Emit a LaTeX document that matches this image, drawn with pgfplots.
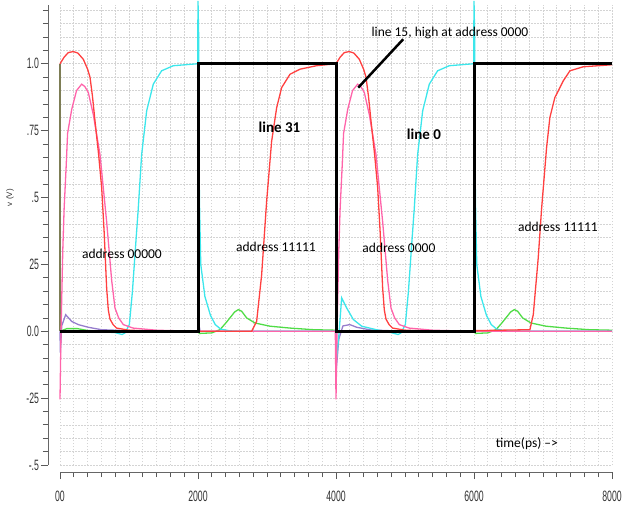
\documentclass[border=0pt]{standalone}
\usepackage{fontspec}
\setmainfont{Carlito}
\newfontfamily\tickfont{Liberation Sans}
\usepackage{pgfplots}
\pgfplotsset{compat=1.18}
\definecolor{tred}{RGB}{255,64,64}
\definecolor{tpink}{RGB}{255,100,170}
\definecolor{tcyan}{RGB}{60,230,235}
\definecolor{tgreen}{RGB}{80,220,70}
\definecolor{tpurple}{RGB}{150,125,205}
\definecolor{tolive}{RGB}{125,125,85}
\definecolor{gridc}{RGB}{212,212,212}
\begin{document}
\begin{tikzpicture}
\begin{axis}[
  scale only axis, width=552pt, height=460pt,
  xmin=0, xmax=8000, ymin=-0.5, ymax=1.22,
  axis lines*=left,
  axis x line shift=7pt, axis y line shift=12pt,
  axis line style={draw=black!60, line width=0.9pt},
  tick align=outside,
  major tick length=7pt, minor tick length=5pt,
  tick style={black!65, line width=0.8pt},
  xtick={0,2000,4000,6000,8000}, xticklabels={00,2000,4000,6000,8000},
  minor xtick={0,200,...,8000},
  ytick={-0.5,-0.25,0,0.25,0.5,0.75,1.0}, yticklabels={-.5,-25,0.0,25,.5,.75,1.0},
  minor ytick={-0.5,-0.45,...,1.21},
  grid=both,
  major grid style={gridc, line width=0.7pt, dash pattern=on 1.5pt off 1.5pt},
  minor grid style={gridc, line width=0.7pt, dash pattern=on 1.5pt off 1.5pt},
  ticklabel style={font=\tickfont\fontsize{15}{15}\selectfont, xscale=0.58, text=black!80},
  xticklabel style={yshift=-8pt},
  clip=false,
]
% olive
\addplot[tolive, line width=1.3pt] coordinates {(0,0) (0,1.0)};
% green
\addplot[tgreen, line width=1.3pt] coordinates {
(0,0)(50,0.005)(100,0.01)(250,0.01)(400,0.003)(600,0)(2000,0)(2020,-0.008)(2200,-0.006)(2318,0.006)(2400,0.03)(2463,0.05)(2530,0.072)(2584,0.081)(2632,0.075)(2705,0.05)(2826,0.031)(3043,0.019)(3333,0.012)(3670,0.006)(4000,0.004)(4010,0.0)(4500,0)(6000,0)(6020,-0.008)(6200,-0.006)(6318,0.006)(6400,0.03)(6463,0.05)(6530,0.072)(6584,0.081)(6632,0.075)(6705,0.05)(6826,0.031)(7043,0.019)(7333,0.012)(7670,0.006)(8000,0.004)};
% purple
\addplot[tpurple, line width=1.3pt] coordinates {
(0,0)(5,-0.08)(25,0.02)(82,0.062)(169,0.037)(265,0.025)(410,0.015)(600,0.006)(1000,0.002)(2000,0)(2010,0.03)(2030,0)(4000,0)(4005,-0.14)(4040,-0.03)(4100,0.02)(4200,0.025)(4300,0.015)(4500,0.005)(5000,0)(8000,0)};
% cyan
\addplot[tcyan, line width=1.3pt] coordinates {
(0,0)(500,0)(800,-0.005)(900,-0.012)(942,-0.006)(1005,0.025)(1050,0.15)(1087,0.288)(1135,0.462)(1183,0.66)(1256,0.824)(1352,0.924)(1473,0.974)(1642,0.993)(1980,1.0)(1995,1.0)(2000,1.235)(2010,1.1)(2020,0.5)(2040,0.25)(2100,0.13)(2180,0.06)(2250,0.025)(2330,0.008)(2450,0.002)(2600,0)(4000,0)(4010,-0.1)(4040,-0.02)(4082,0.125)(4155,0.087)(4251,0.044)(4372,0.019)(4600,0.005)(4800,-0.005)(4900,-0.012)(4942,-0.006)(5005,0.025)(5050,0.15)(5087,0.288)(5135,0.462)(5183,0.66)(5256,0.824)(5352,0.924)(5473,0.974)(5642,0.993)(5980,1.0)(5995,1.0)(6000,1.235)(6010,1.1)(6020,0.5)(6040,0.25)(6100,0.13)(6180,0.06)(6250,0.025)(6330,0.008)(6450,0.002)(6600,0)(8000,0)};
% pink
\addplot[tpink, line width=1.3pt] coordinates {
(0,-0.255)(15,0.0)(40,0.3)(60,0.46)(90,0.62)(110,0.74)(170,0.83)(240,0.9)(314,0.924)(360,0.915)(410,0.893)(483,0.81)(580,0.66)(676,0.41)(749,0.19)(797,0.087)(850,0.05)(918,0.025)(1058,0.012)(1400,0.004)(1995,0.0)(2000,0.22)(2015,0.0)(3990,0)(4000,-0.255)(4015,0.0)(4040,0.3)(4060,0.46)(4090,0.62)(4110,0.74)(4170,0.83)(4240,0.9)(4314,0.924)(4360,0.915)(4410,0.893)(4483,0.81)(4580,0.66)(4676,0.41)(4749,0.19)(4797,0.087)(4850,0.05)(4918,0.025)(5058,0.012)(5400,0.004)(6000,0)(8000,0)};
% red
\addplot[tred, line width=1.3pt] coordinates {
(0,1.0)(60,1.025)(120,1.042)(193,1.046)(260,1.04)(338,1.017)(400,0.98)(435,0.95)(470,0.88)(507,0.787)(560,0.66)(604,0.537)(640,0.37)(676,0.162)(700,0.08)(725,0.045)(770,0.025)(821,0.012)(1000,0.004)(1500,0.0)(2778,0.0)(2850,0.037)(2922,0.21)(2995,0.487)(3067,0.71)(3140,0.836)(3212,0.911)(3333,0.961)(3478,0.98)(3719,0.993)(3985,1.0)
(4000,1.0)(4060,1.025)(4120,1.042)(4193,1.046)(4260,1.04)(4338,1.017)(4400,0.98)(4435,0.95)(4470,0.88)(4507,0.787)(4560,0.66)(4604,0.537)(4640,0.37)(4676,0.162)(4700,0.08)(4725,0.045)(4770,0.025)(4821,0.012)(5000,0.004)(5500,0.0)(6810,0.006)(6859,0.062)(6931,0.275)(6980,0.46)(7052,0.687)(7100,0.8)(7172,0.874)(7293,0.936)(7390,0.974)(7583,0.989)(7970,0.996)(8000,0.997)};
% black
\addplot[black, line width=3pt] coordinates {(0,0)(2000,0)(2000,1)(4000,1)(4000,0)(6000,0)(6000,1)(8000,1)};
\draw[black, line width=2.5pt] (axis cs:4322,0.911) -- (axis cs:4974,1.092);
\node[font=\fontsize{13.5}{16}\selectfont] at (axis cs:898,0.288) {address 00000};
\node[font=\fontsize{13.5}{16}\selectfont] at (axis cs:3130,0.315) {address 11111};
\node[font=\fontsize{13.5}{16}\selectfont] at (axis cs:4912,0.311) {address 0000};
\node[font=\fontsize{13.5}{16}\selectfont] at (axis cs:7216,0.39) {address 11111};
\node[font=\fontsize{13.5}{16}\selectfont] at (axis cs:5651,1.116) {line 15, high at address 0000};
\node[font=\fontsize{13.5}{16}\selectfont] at (axis cs:6767,-0.419) {time(ps) -->};
\node[font=\bfseries\fontsize{15}{18}\selectfont] at (axis cs:3181,0.764) {line 31};
\node[font=\bfseries\fontsize{15}{18}\selectfont] at (axis cs:5274,0.738) {line 0};
\node[rotate=90, font=\tickfont\fontsize{8}{8}\selectfont, text=black!80] at (axis cs:-725,0.5) {v (V)};
\coordinate (SW) at (rel axis cs:0,0);
\coordinate (NE) at (rel axis cs:1,1);
\end{axis}
\pgfresetboundingbox
\path[use as bounding box] ([xshift=-60pt,yshift=-41pt]SW) rectangle ([xshift=11pt,yshift=5pt]NE);
\end{tikzpicture}
\end{document}
